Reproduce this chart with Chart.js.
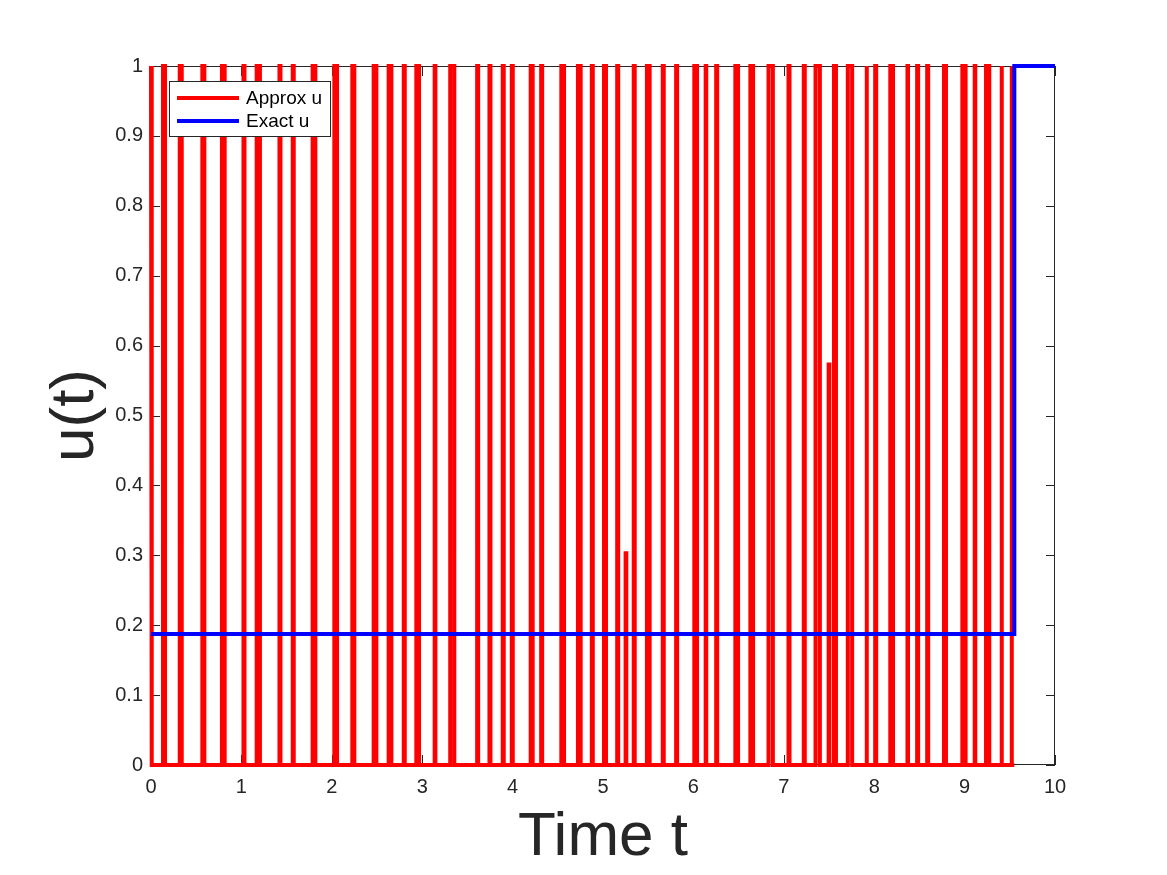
<!DOCTYPE html>
<html>
<head>
<meta charset="utf-8">
<script src="https://cdn.jsdelivr.net/npm/chart.js@4/dist/chart.umd.min.js"></script>
<style>
  html, body { margin: 0; padding: 0; background: #ffffff; }
  #wrap { width: 1167px; height: 875px; }
</style>
</head>
<body>
<div id="wrap"><canvas id="chart" width="1167" height="875"></canvas></div>
<script>
// pulses of the approximate control (time t)
var pulseStart = [0.000, 0.133, 0.318, 0.568, 0.785, 1.023, 1.169, 1.421, 1.568, 1.788,
                  2.028, 2.227, 2.463, 2.629, 2.796, 2.935, 3.138, 3.310, 3.608, 3.744,
                  3.891, 3.991, 4.200, 4.316, 4.539, 4.723, 4.876, 5.011, 5.157, 5.250,
                  5.340, 5.486, 5.661, 5.809, 6.010, 6.136, 6.252, 6.464, 6.630, 6.831,
                  7.052, 7.221, 7.351, 7.496, 7.555, 7.708, 7.914, 8.011, 8.178, 8.368,
                  8.475, 8.586, 8.772, 8.975, 9.112, 9.237, 9.407, 9.518];
var pulseEnd   = [0.008, 0.155, 0.340, 0.590, 0.815, 1.034, 1.205, 1.432, 1.579, 1.818,
                  2.058, 2.249, 2.493, 2.659, 2.807, 2.965, 3.146, 3.355, 3.619, 3.755,
                  3.902, 4.002, 4.222, 4.327, 4.569, 4.753, 4.887, 5.033, 5.168, 5.258,
                  5.351, 5.516, 5.672, 5.820, 6.040, 6.142, 6.263, 6.494, 6.660, 6.879,
                  7.063, 7.232, 7.399, 7.504, 7.577, 7.756, 7.920, 8.022, 8.208, 8.374,
                  8.486, 8.597, 8.794, 9.011, 9.118, 9.273, 9.413, 9.524];
// height of each pulse (two of them do not reach 1)
var pulseHeight = [1, 1, 1, 1, 1, 1, 1, 1, 1, 1,
                   1, 1, 1, 1, 1, 1, 1, 1, 1, 1,
                   1, 1, 1, 1, 1, 1, 1, 1, 1, 0.303,
                   1, 1, 1, 1, 1, 1, 1, 1, 1, 1,
                   1, 1, 1, 0.573, 1, 1, 1, 1, 1, 1,
                   1, 1, 1, 1, 1, 1, 1, 1];
var approxEnd = 9.55;

// exact control: constant level, then switch to 1
var exactLevel = 0.1875;
var exactSwitch = 9.55;
var exactEnd = 10;

var xTicks = [0, 1, 2, 3, 4, 5, 6, 7, 8, 9, 10];
var xTickLabels = ['0', '1', '2', '3', '4', '5', '6', '7', '8', '9', '10'];
var yTicks = [0, 0.1, 0.2, 0.3, 0.4, 0.5, 0.6, 0.7, 0.8, 0.9, 1];
var yTickLabels = ['0', '0.1', '0.2', '0.3', '0.4', '0.5', '0.6', '0.7', '0.8', '0.9', '1'];

var FONT = '"Liberation Sans", Helvetica, Arial, sans-serif';
var INK = '#262626';

// build the step line from the pulses
var approxPoints = [];
for (var i = 0; i < pulseStart.length; i++) {
  var s = pulseStart[i], e = pulseEnd[i], h = pulseHeight[i];
  if (approxPoints.length || s > 0) approxPoints.push({x: s, y: 0});
  approxPoints.push({x: s, y: h});
  approxPoints.push({x: e, y: h});
  approxPoints.push({x: e, y: 0});
}
approxPoints.push({x: approxEnd, y: 0});

var exactPoints = [
  {x: 0, y: exactLevel},
  {x: exactSwitch, y: exactLevel},
  {x: exactSwitch, y: 1},
  {x: exactEnd, y: 1}
];

// box + inward ticks on all four sides, like the original figure
var boxPlugin = {
  id: 'box',
  beforeDatasetsDraw: function(chart) {
    var ctx = chart.ctx, a = chart.chartArea;
    var xs = chart.scales.x, ys = chart.scales.y;
    ctx.save();
    ctx.strokeStyle = INK;
    ctx.lineWidth = 1;
    ctx.strokeRect(a.left + 0.5, a.top + 0.5, a.right - a.left - 1, a.bottom - a.top - 1);
    ctx.beginPath();
    xTicks.forEach(function(v) {
      var px = Math.round(xs.getPixelForValue(v)) + 0.5;
      ctx.moveTo(px, a.bottom); ctx.lineTo(px, a.bottom - 10);
      ctx.moveTo(px, a.top); ctx.lineTo(px, a.top + 10);
    });
    yTicks.forEach(function(v) {
      var py = Math.round(ys.getPixelForValue(v)) + 0.5;
      ctx.moveTo(a.left, py); ctx.lineTo(a.left + 9, py);
      ctx.moveTo(a.right, py); ctx.lineTo(a.right - 9, py);
    });
    ctx.stroke();
    ctx.restore();
  },
  afterDraw: function(chart) {
    // legend box in the upper left corner
    var ctx = chart.ctx;
    var x0 = 169.5, y0 = 81.5, w = 161, h = 55;
    ctx.save();
    ctx.fillStyle = '#ffffff';
    ctx.fillRect(x0, y0, w, h);
    ctx.strokeStyle = INK;
    ctx.lineWidth = 1;
    ctx.strokeRect(x0, y0, w, h);
    ctx.font = '19px ' + FONT;
    ctx.textBaseline = 'middle';
    ctx.textAlign = 'left';
    chart.data.datasets.forEach(function(ds, k) {
      var ly = 98 + k * 23;
      ctx.strokeStyle = ds.borderColor;
      ctx.lineWidth = 4;
      ctx.beginPath();
      ctx.moveTo(177, ly); ctx.lineTo(239, ly);
      ctx.stroke();
      ctx.fillStyle = '#000000';
      ctx.fillText(ds.label, 246, ly + 1);
    });
    ctx.restore();
  }
};

var ctx = document.getElementById('chart').getContext('2d');
var chart = new Chart(ctx, {
  type: 'line',
  data: {
    datasets: [
      {
        label: 'Approx u',
        data: approxPoints,
        borderColor: '#ff0000',
        borderWidth: 4,
        pointRadius: 0,
        tension: 0,
        borderJoinStyle: 'miter',
        clip: false,
        order: 2
      },
      {
        label: 'Exact u',
        data: exactPoints,
        borderColor: '#0000ff',
        borderWidth: 4,
        pointRadius: 0,
        tension: 0,
        borderJoinStyle: 'miter',
        clip: false,
        order: 1
      }
    ]
  },
  options: {
    responsive: false,
    animation: false,
    devicePixelRatio: 1,
    layout: { padding: { top: 66, right: 112, left: 0, bottom: 0 } },
    plugins: {
      legend: { display: false },
      tooltip: { enabled: false }
    },
    scales: {
      x: {
        type: 'linear',
        min: 0,
        max: 10,
        grid: { display: false, drawTicks: false },
        border: { display: false },
        afterFit: function(scale) { scale.height = 110; },
        afterBuildTicks: function(scale) {
          scale.ticks = xTicks.map(function(v) { return {value: v}; });
        },
        ticks: {
          autoSkip: false,
          maxRotation: 0,
          padding: 10,
          color: INK,
          font: { family: FONT, size: 20 },
          callback: function(value, index) { return xTickLabels[index]; }
        },
        title: {
          display: true,
          text: 'Time t',
          color: INK,
          font: { family: FONT, size: 62 },
          padding: { top: 0, bottom: 0 }
        }
      },
      y: {
        type: 'linear',
        min: 0,
        max: 1,
        grid: { display: false, drawTicks: false },
        border: { display: false },
        afterFit: function(scale) { scale.width = 151; },
        afterBuildTicks: function(scale) {
          scale.ticks = yTicks.map(function(v) { return {value: v}; });
        },
        ticks: {
          autoSkip: false,
          padding: 8,
          color: INK,
          font: { family: FONT, size: 20 },
          callback: function(value, index) { return yTickLabels[index]; }
        },
        title: {
          display: true,
          text: 'u(t)',
          color: INK,
          font: { family: FONT, size: 62 },
          padding: { top: 39, bottom: 0 }
        }
      }
    }
  },
  plugins: [boxPlugin]
});
</script>
</body>
</html>
